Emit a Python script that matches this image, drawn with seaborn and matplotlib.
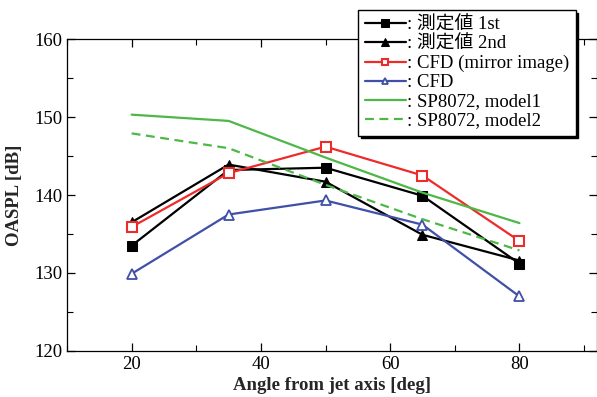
import matplotlib
matplotlib.use("Agg")
import matplotlib.pyplot as plt
import seaborn as sns
import pandas as pd
from matplotlib.ticker import MultipleLocator

angles = [20, 35, 50, 65, 80]
meas_1st = [133.5, 143.2, 143.5, 139.9, 131.2]
meas_2nd = [136.5, 143.9, 141.7, 134.9, 131.6]
cfd_mirror = [135.9, 142.8, 146.2, 142.5, 134.1]
cfd = [129.9, 137.5, 139.3, 136.2, 127.0]
sp_model1 = [150.3, 149.5, 144.8, 140.3, 136.4]
sp_model2 = [147.9, 146.0, 141.3, 136.9, 132.9]

labels = [": 測定値 1st", ": 測定値 2nd", ": CFD (mirror image)", ": CFD",
          ": SP8072, model1", ": SP8072, model2"]

sns.set_style("ticks")
plt.rcParams['font.family'] = ['Liberation Serif', 'Noto Sans CJK JP']
plt.rcParams['axes.linewidth'] = 0.9
plt.rcParams['text.color'] = 'black'

fig = plt.figure(figsize=(5.97, 3.97), dpi=100)
ax = fig.add_axes([67/597, 46/397, 1 - 67/597, (351-39)/397])

red = '#EE2B2B'
blue = '#3F50A6'
green = '#4DB847'

series = [
    (meas_1st, dict(color='black', marker='s', markersize=7, markerfacecolor='black', markeredgecolor='black', linestyle='-')),
    (meas_2nd, dict(color='black', marker='^', markersize=7, markerfacecolor='black', markeredgecolor='black', linestyle='-')),
    (cfd_mirror, dict(color=red, marker='s', markersize=6.5, markerfacecolor='white', markeredgecolor=red, markeredgewidth=1.5, linestyle='-')),
    (cfd, dict(color=blue, marker='^', markersize=6.5, markerfacecolor='white', markeredgecolor=blue, markeredgewidth=1.3, linestyle='-')),
    (sp_model1, dict(color=green, linestyle='-')),
    (sp_model2, dict(color=green, linestyle=(0, (4, 2.5)))),
]

for (vals, kw), lab in zip(series, labels):
    df = pd.DataFrame({'angle': angles, 'oaspl': vals})
    sns.lineplot(data=df, x='angle', y='oaspl', ax=ax, label=lab, linewidth=1.6, **kw)

ax.set_xlim(10, 92)
ax.set_ylim(120, 160)
ax.xaxis.set_major_locator(MultipleLocator(20))
ax.xaxis.set_minor_locator(MultipleLocator(10))
ax.yaxis.set_major_locator(MultipleLocator(10))
ax.yaxis.set_minor_locator(MultipleLocator(5))
ax.tick_params(which='both', direction='in', top=True, right=True, colors='black', labelsize=13.5)
ax.tick_params(which='major', length=6, width=0.9)
ax.tick_params(which='minor', length=4, width=0.8)
for s in ax.spines.values():
    s.set_color('black')

ax.set_xlabel('Angle from jet axis [deg]', fontsize=13.5, fontweight='bold', labelpad=3)
ax.set_ylabel('OASPL [dB]', fontsize=13.5, fontweight='bold', labelpad=8)

handles, labs = ax.get_legend_handles_labels()
leg = ax.legend(handles, labs, loc='upper left', bbox_to_anchor=(358/597, 1 - 10/397),
                bbox_transform=fig.transFigure, borderaxespad=0, fontsize=13.5,
                frameon=True, fancybox=False, shadow={'color': 'black', 'alpha': 1},
                handlelength=2.2, handletextpad=0.05, labelspacing=0.1,
                borderpad=0.35, framealpha=1, markerscale=0.75)
leg.get_frame().set_edgecolor('black')
leg.get_frame().set_linewidth(1.0)

fig.savefig('out.png', dpi=100)
